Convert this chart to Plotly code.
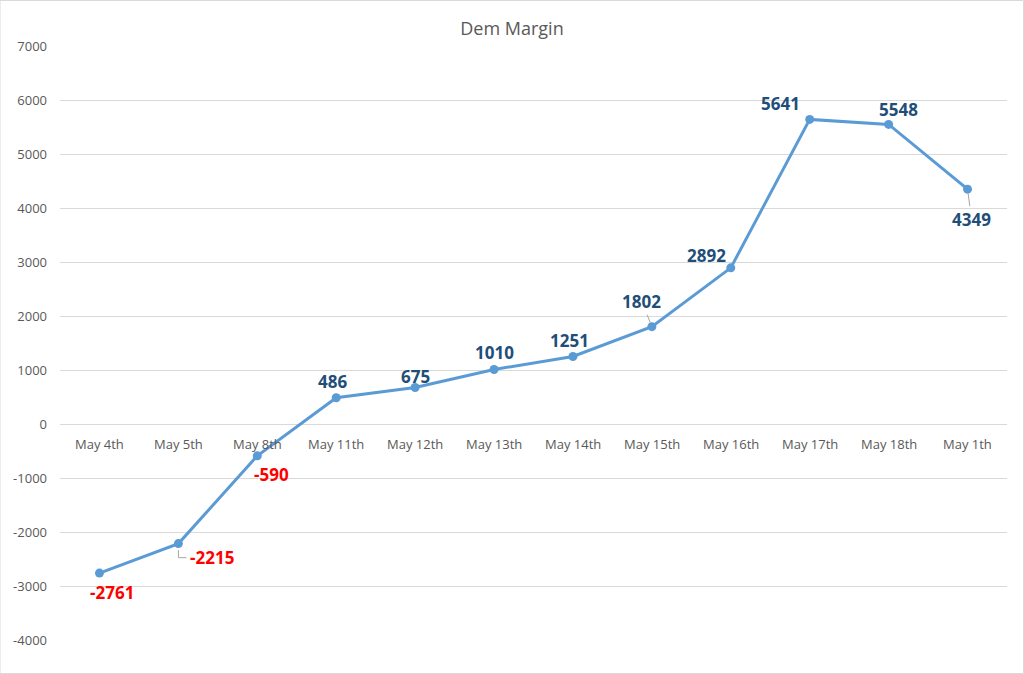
import plotly.graph_objects as go

categories = ["May 4th", "May 5th", "May 8th", "May 11th", "May 12th", "May 13th",
              "May 14th", "May 15th", "May 16th", "May 17th", "May 18th", "May 1th"]
margin_values = [-2761, -2215, -590, 486, 675, 1010, 1251, 1802, 2892, 5641, 5548, 4349]
y_ticks = [-4000, -3000, -2000, -1000, 0, 1000, 2000, 3000, 4000, 5000, 6000, 7000]

# label offsets in pixels (dx, dy: positive dy = down) and whether a leader line is drawn
label_offsets = [(13, 19), (34, 14), (14, 19), (-4, -16), (0, -11), (0, -17),
                 (-3, -16), (-10, -25), (-24, -12), (-29, -16), (10, -15), (4, 30)]
leader = [False, False, False, False, False, False, False, True, False, False, False, True]

x_idx = list(range(len(categories)))

fig = go.Figure()
fig.add_trace(go.Scatter(
    x=x_idx, y=margin_values, mode="lines+markers",
    line=dict(color="#5B9BD5", width=3),
    marker=dict(color="#5B9BD5", size=9),
    hoverinfo="skip", showlegend=False, cliponaxis=False,
))

annotations = []
font_family = "Open Sans, Noto Sans, sans-serif"
for i, (v, (dx, dy), ld) in enumerate(zip(margin_values, label_offsets, leader)):
    color = "#FF0000" if v < 0 else "#1F4E79"
    if ld:
        annotations.append(dict(
            x=i, y=v, xref="x", yref="y", text=str(v), showarrow=True,
            arrowhead=0, arrowwidth=1, arrowcolor="#A6A6A6", ax=dx, ay=dy,
            standoff=4, font=dict(family=font_family, size=17, color=color, weight="bold"),
        ))
    else:
        annotations.append(dict(
            x=i, y=v, xref="x", yref="y", text=str(v), showarrow=False,
            xshift=dx, yshift=-dy,
            font=dict(family=font_family, size=17, color=color, weight="bold"),
        ))

# category labels sitting under the zero line
for i, c in enumerate(categories):
    annotations.append(dict(
        x=i, y=0, xref="x", yref="y", text=c, showarrow=False,
        yanchor="top", yshift=-9,
        font=dict(family=font_family, size=13, color="#595959"),
    ))

# elbow leader for the May 5th label
shapes = [
    dict(type="line", xref="x", yref="y", xsizemode="pixel", xanchor=1,
         x0=0, x1=0, y0=-2215 - 120, y1=-2215 - 260,
         line=dict(color="#A6A6A6", width=1)),
    dict(type="line", xref="x", yref="y", xsizemode="pixel", xanchor=1,
         x0=0, x1=8, y0=-2215 - 260, y1=-2215 - 260,
         line=dict(color="#A6A6A6", width=1)),
]

fig.update_layout(
    width=1024, height=674,
    margin=dict(l=60, r=17, t=46, b=34),
    paper_bgcolor="white", plot_bgcolor="white",
    title=dict(text="Dem Margin", x=0.5, xanchor="center", y=0.957, yanchor="middle",
               font=dict(family=font_family, size=18, color="#595959")),
    xaxis=dict(range=[-0.5, len(categories) - 0.5], showticklabels=False,
               showgrid=False, zeroline=False, showline=False, fixedrange=True),
    yaxis=dict(range=[-4000, 7000], tickvals=y_ticks, ticktext=[str(t) for t in y_ticks],
               showgrid=True, gridcolor="#D9D9D9", gridwidth=1,
               zeroline=True, zerolinecolor="#D9D9D9", zerolinewidth=1,
               showline=False, ticks="", ticklabelstandoff=12,
               tickfont=dict(family=font_family, size=13, color="#595959")),
    annotations=annotations,
    shapes=shapes + [dict(type="rect", xref="paper", yref="paper",
                          x0=-60/947, x1=1 + 16.5/947, y0=-33.5/594, y1=1 + 45.5/594,
                          line=dict(color="#D9D9D9", width=1))],
)

fig.write_html("out.html")
